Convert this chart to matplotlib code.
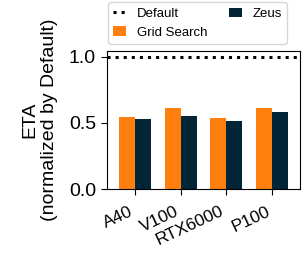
import matplotlib.pyplot as plt
import numpy as np

gpus = ["A40", "V100", "RTX6000", "P100"]
grid_search = [0.545, 0.614, 0.538, 0.614]
zeus = [0.530, 0.553, 0.515, 0.583]
default = 1.0

plt.rcParams['font.family'] = ['Liberation Sans', 'DejaVu Sans']

fig = plt.figure(figsize=(3.07, 2.56), dpi=100)
ax = fig.add_axes([107 / 307, (256 - 189) / 256, 193 / 307, 138 / 256])

x = np.arange(len(gpus))
w = 0.35
ax.axhline(default, color="black", linestyle=":", linewidth=2.2, label="Default")
ax.bar(x - w / 2, grid_search, w, color="#ff7f0e", label="Grid Search")
ax.bar(x + w / 2, zeus, w, color="#022538", label="Zeus")

ax.set_xlim(-0.61, 3.61)
ax.set_ylim(0, 1.045)
ax.set_yticks([0.0, 0.5, 1.0])
ax.set_xticks(x)
ax.set_xticklabels(gpus, rotation=25, ha="right")
ax.tick_params(axis="y", labelsize=14, length=4.5)
ax.tick_params(axis="x", labelsize=12.5, length=4.5, pad=6)
ax.set_ylabel("ETA\n(normalized by Default)", fontsize=14, labelpad=8)

ax.legend(loc="lower left", bbox_to_anchor=(108 / 307, 1 - 44 / 256),
          bbox_transform=fig.transFigure, ncol=2, fontsize=9.5,
          handlelength=1.0, columnspacing=1.6, borderaxespad=0,
          framealpha=0.8)

fig.savefig("out.png", dpi=100)
